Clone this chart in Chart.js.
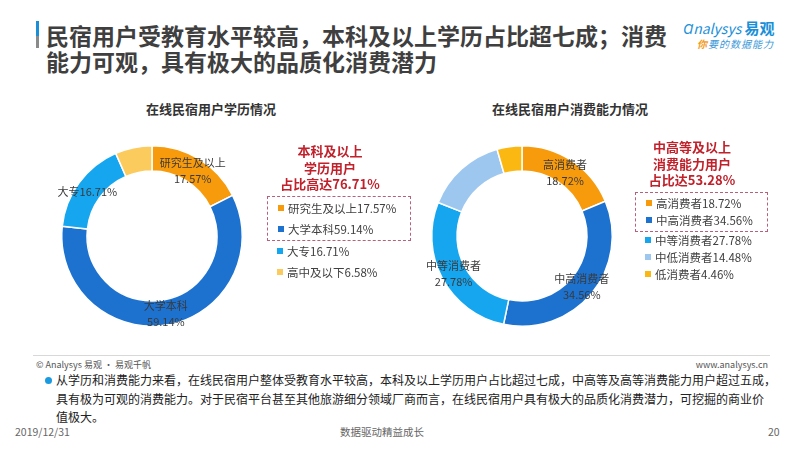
<!DOCTYPE html>
<html>
<head>
<meta charset="utf-8">
<script src="https://cdn.jsdelivr.net/npm/chart.js@4"></script>
<style>
  body { margin: 0; width: 800px; height: 450px; background: #fff; position: relative; overflow: hidden;
         font-family: "Noto Sans CJK SC", "Noto Sans", sans-serif; color: #404040; }
  .abs { position: absolute; }
  #titleBar { left: 36px; top: 21px; width: 3px; height: 27px; background: linear-gradient(#1a8fd8 55%, #8a8a8a 55%); }
  .title { left: 46px; font-size: 23px; font-weight: bold; line-height: 24px; height: 24px; color: #3f3f3f; white-space: nowrap; }
  #logo1 { left: 683px; top: 19px; font-size: 14px; line-height: 18px; color: #1a8fd8; font-style: italic; }
  #logo1 b { font-style: normal; font-size: 15px; }
  #logo2 { left: 697px; top: 38px; font-size: 10px; line-height: 12px; color: #3d9ad8; font-style: italic; letter-spacing: 1px; }
  #logo2 span { color: #f29b1e; font-weight: bold; }
  .ctitle { top: 99px; font-size: 13px; font-weight: bold; color: #333; width: 240px; text-align: center; }
  .note { font-size: 13px; font-weight: bold; color: #c0212b; text-align: center; line-height: 16.5px; width: 140px; }
  .legend { font-size: 11.5px; color: #404040; }
  .box { border: 1px dashed #b7607a; }
  .item { white-space: nowrap; }
  .sq { display: inline-block; width: 6px; height: 6px; margin-right: 4px; vertical-align: 2px; }
  #rule { left: 33px; top: 355px; width: 737px; height: 1px; background: #d8d8d8; }
  .small { font-size: 9px; color: #555; top: 358px; }
  #body { left: 44px; top: 371px; font-size: 12px; line-height: 18.5px; color: #222; letter-spacing: 0px; white-space: nowrap; }
  #body .dot { position: absolute; left: 1px; top: 6px; width: 7px; height: 7px; border-radius: 50%; background: #1a9ae0; }
  #body p { margin: 0 0 0 12px; }
  .foot { top: 424px; font-size: 10.5px; color: #666; }
</style>
</head>
<body>
<div class="abs" id="titleBar"></div>
<div class="abs title" style="top:23px;">民宿用户受教育水平较高，本科及以上学历占比超七成；消费</div>
<div class="abs title" style="top:49px;">能力可观，具有极大的品质化消费潜力</div>
<div class="abs" id="logo1">Ɑnalysys <b>易观</b></div>
<div class="abs" id="logo2"><span>你</span>要的数据能力</div>

<div class="abs ctitle" style="left:91px;">在线民宿用户学历情况</div>
<div class="abs ctitle" style="left:450px;">在线民宿用户消费能力情况</div>

<canvas id="eduChart" class="abs" style="left:22px; top:140px;" width="260" height="192"></canvas>
<canvas id="spendChart" class="abs" style="left:392px; top:140px;" width="260" height="192"></canvas>

<div class="abs note" style="left:260px; top:143px;">本科及以上<br>学历用户<br>占比高达76.71%</div>
<div class="abs note" style="left:622px; top:139px;">中高等及以上<br>消费能力用户<br>占比达53.28%</div>

<div class="abs legend" id="eduLegend" style="left:267px; top:196px;"></div>
<div class="abs legend" id="spendLegend" style="left:635px; top:192px;"></div>

<div class="abs" id="rule"></div>
<div class="abs small" style="left:36px;">© Analysys 易观 · 易观千帆</div>
<div class="abs small" style="right:32px;">www.analysys.cn</div>
<div class="abs" id="body"><span class="dot"></span><p>从学历和消费能力来看，在线民宿用户整体受教育水平较高，本科及以上学历用户占比超过七成，中高等及高等消费能力用户超过五成，<br>具有极为可观的消费能力。对于民宿平台甚至其他旅游细分领域厂商而言，在线民宿用户具有极大的品质化消费潜力，可挖掘的商业价<br>值极大。</p></div>
<div class="abs foot" style="left:15px;">2019/12/31</div>
<div class="abs foot" style="left:340px;">数据驱动精益成长</div>
<div class="abs foot" style="left:768px;">20</div>

<script>
// 学历
const eduLabels = ['研究生及以上', '大学本科', '大专', '高中及以下'];
const eduValues = [17.57, 59.14, 16.71, 6.58];
const eduColors = ['#f79a0c', '#1e72cf', '#16a6f0', '#fccb5e'];
const eduSliceText = ['two', 'two', 'one', 'none'];
const eduBoxed = 2;

// 消费能力
const spendLabels = ['高消费者', '中高消费者', '中等消费者', '中低消费者', '低消费者'];
const spendValues = [18.72, 34.56, 27.78, 14.48, 4.46];
const spendColors = ['#f79a0c', '#1e72cf', '#16a6f0', '#9ec7f0', '#fbb813'];
const spendSliceText = ['two', 'two', 'two', 'none', 'none'];
const spendBoxed = 2;

function pct(v) {
    return v.toFixed(2) + '%';
}

// labels drawn on the ring
const sliceLabelPlugin = {
    id: 'sliceLabels',
    afterDatasetsDraw(chart, args, opts) {
        const ctx = chart.ctx;
        const meta = chart.getDatasetMeta(0);
        const labels = chart.data.labels;
        const values = chart.data.datasets[0].data;
        ctx.save();
        ctx.font = '11px "Noto Sans CJK SC", sans-serif';
        ctx.fillStyle = '#3a3a3a';
        ctx.textAlign = 'center';
        ctx.textBaseline = 'middle';
        meta.data.forEach(function(arc, i) {
            const mode = opts.modes[i];
            if (mode === 'none') return;
            const p = arc.tooltipPosition();
            if (mode === 'one') {
                ctx.fillText(labels[i] + pct(values[i]), p.x - 2, p.y + 2);
            } else {
                ctx.fillText(labels[i], p.x, p.y - 7);
                ctx.fillText(pct(values[i]), p.x, p.y + 9);
            }
        });
        ctx.restore();
    }
};

function makeDonut(id, labels, values, colors, modes) {
    return new Chart(document.getElementById(id), {
        type: 'doughnut',
        data: {
            labels: labels,
            datasets: [{
                data: values,
                backgroundColor: colors,
                borderColor: '#ffffff',
                borderWidth: 1.5
            }]
        },
        options: {
            responsive: false,
            animation: false,
            events: [],
            cutout: '72%',
            layout: { padding: 5 },
            plugins: {
                legend: { display: false },
                tooltip: { enabled: false },
                sliceLabels: { modes: modes }
            }
        },
        plugins: [sliceLabelPlugin]
    });
}

function buildLegend(el, labels, values, colors, boxed, lineH, pad) {
    let boxHtml = '';
    let restHtml = '';
    labels.forEach(function(lab, i) {
        const row = `<div class="item" style="line-height:${lineH}px; padding-left:10px;"><span class="sq" style="background:${colors[i]}"></span>${lab}${pct(values[i])}</div>`;
        if (i < boxed) boxHtml += row; else restHtml += row;
    });
    el.innerHTML = `<div class="box" style="padding:${pad}px 14px ${pad}px 0;">${boxHtml}</div>${restHtml}`;
}

makeDonut('eduChart', eduLabels, eduValues, eduColors, eduSliceText);
makeDonut('spendChart', spendLabels, spendValues, spendColors, spendSliceText);
buildLegend(document.getElementById('eduLegend'), eduLabels, eduValues, eduColors, eduBoxed, 21, 0.5);
buildLegend(document.getElementById('spendLegend'), spendLabels, spendValues, spendColors, spendBoxed, 17, 2);
</script>
</body>
</html>
